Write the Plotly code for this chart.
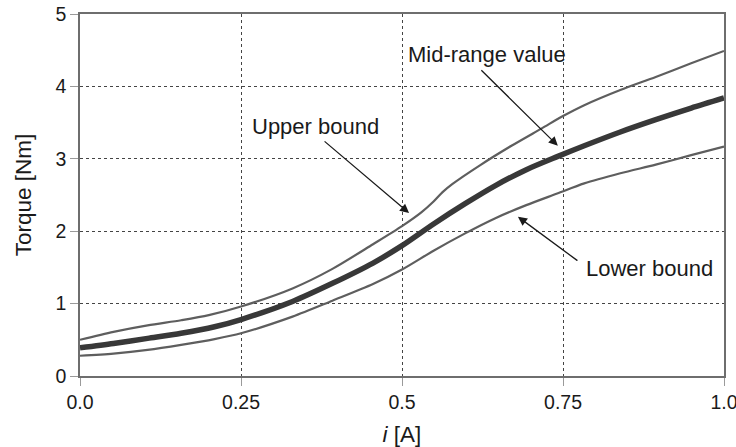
import plotly.graph_objects as go

# Torque envelope versus coil current
i_upper = [0.0, 0.052, 0.105, 0.157, 0.2, 0.25, 0.33, 0.392, 0.455, 0.5, 0.53,
           0.549, 0.563, 0.578, 0.621, 0.67, 0.717, 0.75, 0.783, 0.839, 0.894,
           0.949, 1.0]
torque_upper = [0.50, 0.61, 0.70, 0.77, 0.84, 0.96, 1.21, 1.48, 1.82, 2.07, 2.26,
                2.41, 2.54, 2.65, 2.91, 3.18, 3.42, 3.59, 3.74, 3.95, 4.13,
                4.32, 4.49]

i_mid = [0.0, 0.052, 0.105, 0.157, 0.209, 0.25, 0.33, 0.392, 0.455, 0.5, 0.549,
         0.598, 0.645, 0.693, 0.741, 0.783, 0.839, 0.894, 0.949, 1.0]
torque_mid = [0.39, 0.45, 0.52, 0.59, 0.68, 0.78, 1.03, 1.28, 1.56, 1.80, 2.10,
              2.38, 2.63, 2.85, 3.03, 3.18, 3.37, 3.54, 3.70, 3.84]

i_lower = [0.0, 0.052, 0.105, 0.157, 0.209, 0.25, 0.33, 0.392, 0.455, 0.5, 0.549,
           0.598, 0.645, 0.693, 0.741, 0.783, 0.839, 0.894, 0.949, 1.0]
torque_lower = [0.28, 0.31, 0.36, 0.43, 0.51, 0.59, 0.82, 1.04, 1.27, 1.47, 1.73,
                1.97, 2.18, 2.36, 2.52, 2.66, 2.80, 2.92, 3.05, 3.17]

x_ticks = [0.0, 0.25, 0.5, 0.75, 1.0]
x_tick_text = ["0.0", "0.25", "0.5", "0.75", "1.0"]
y_ticks = [0, 1, 2, 3, 4, 5]

FONT = "Liberation Sans, Arial, sans-serif"

fig = go.Figure()
fig.add_trace(go.Scatter(x=i_upper, y=torque_upper, mode="lines",
                         line=dict(color="#5e5e5e", width=2.2, shape="spline", smoothing=0.8),
                         name="Upper bound"))
fig.add_trace(go.Scatter(x=i_lower, y=torque_lower, mode="lines",
                         line=dict(color="#5e5e5e", width=2.2, shape="spline", smoothing=0.8),
                         name="Lower bound"))
fig.add_trace(go.Scatter(x=i_mid, y=torque_mid, mode="lines",
                         line=dict(color="#383838", width=5.5, shape="spline", smoothing=0.8),
                         name="Mid-range value"))

# Labels
labels = [
    ("Mid-range value", 0.632, 0.887),
    ("Upper bound", 0.365, 0.688),
    ("Lower bound", 0.885, 0.296),
]
for text, px, py in labels:
    fig.add_annotation(text=text, xref="paper", yref="paper", x=px, y=py,
                       xanchor="center", yanchor="middle",
                       showarrow=False, font=dict(family=FONT, size=22, color="#1a1a1a"))

# Pointer arrows: head on the curve, tail near the label
arrows = [
    (0.742, 3.18, -78, -77),
    (0.511, 2.25, -86, -73),
    (0.68, 2.20, 61, 45),
]
for hx, hy, ax, ay in arrows:
    fig.add_annotation(x=hx, y=hy, xref="x", yref="y", ax=ax, ay=ay, text="",
                       showarrow=True, arrowhead=2, arrowsize=1.4, arrowwidth=1.3,
                       arrowcolor="#1a1a1a", standoff=0)

axis_common = dict(
    showgrid=True, gridcolor="#444444", gridwidth=1, griddash="dot",
    showline=True, linecolor="#6e6e6e", linewidth=1.5, mirror=True,
    ticks="outside", ticklen=8, tickcolor="#9a9a9a", tickwidth=1,
    zeroline=False, automargin=False, ticklabeloverflow="allow",
    tickfont=dict(family=FONT, size=19.5, color="#1a1a1a"),
)

fig.update_layout(
    width=736, height=447,
    margin=dict(l=80, r=12, t=14, b=71),
    paper_bgcolor="white", plot_bgcolor="white",
    showlegend=False,
    font=dict(family=FONT, color="#1a1a1a"),
    xaxis=dict(range=[0, 1], tickvals=x_ticks, ticktext=x_tick_text,
               title=dict(text="<i>i</i> [A]", font=dict(family=FONT, size=22.5), standoff=20),
               **axis_common),
    yaxis=dict(range=[0, 5], tickvals=y_ticks,
               title=dict(text="Torque [Nm]", font=dict(family=FONT, size=22.5), standoff=18),
               **axis_common),
)

fig.write_html("out.html")
